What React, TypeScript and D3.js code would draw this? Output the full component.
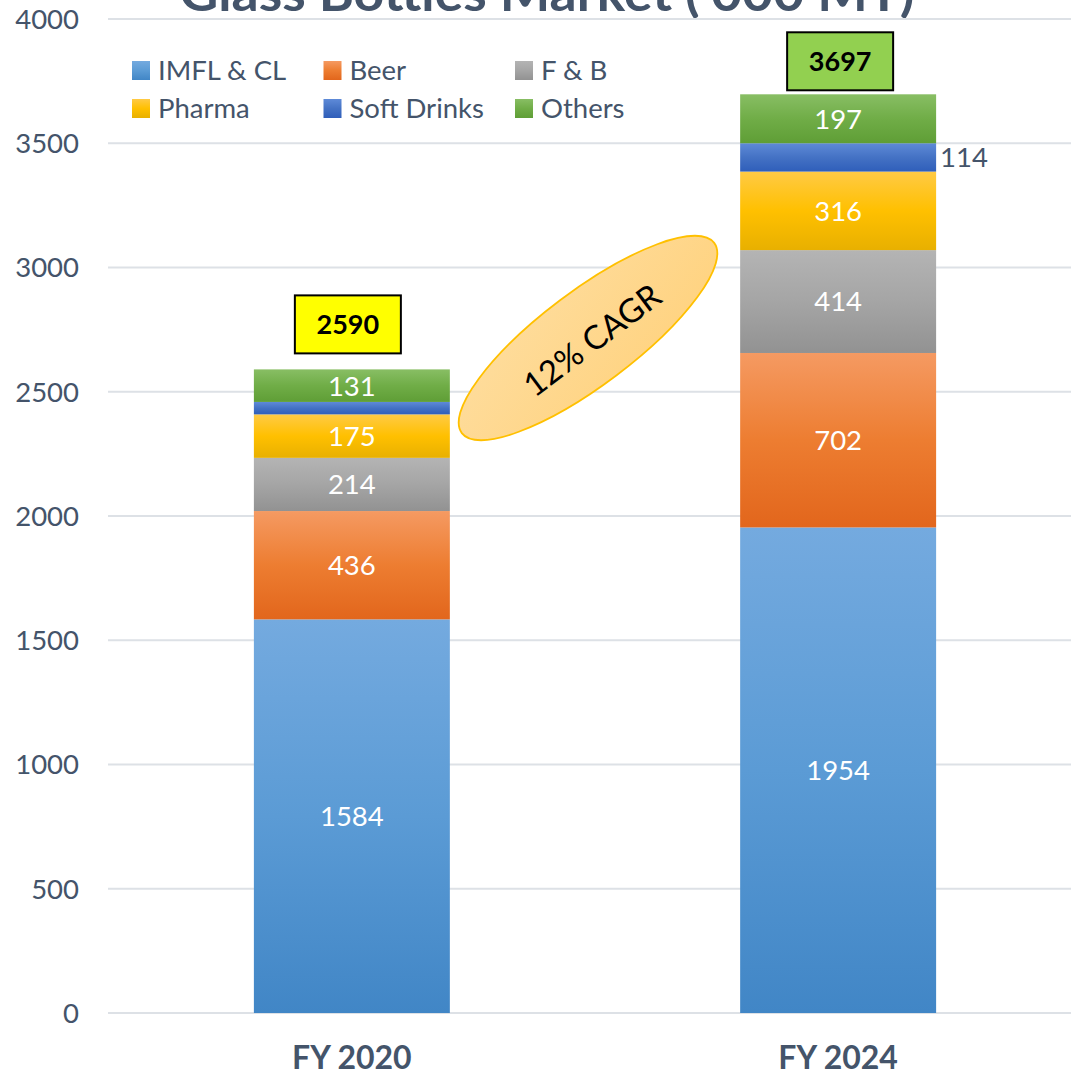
import React from "react";
import * as d3 from "d3";

const categories = ["FY 2020", "FY 2024"];
const seriesNames = ["IMFL & CL", "Beer", "F & B", "Pharma", "Soft Drinks", "Others"];
const imflValues = [1584, 1954];
const beerValues = [436, 702];
const fnbValues = [214, 414];
const pharmaValues = [175, 316];
const softDrinkValues = [50, 114];
const otherValues = [131, 197];
const totals = [2590, 3697];
const yTicks = [0, 500, 1000, 1500, 2000, 2500, 3000, 3500, 4000];
const titleText = "Glass Bottles Market ('000 MT)";
const cagrText = "12% CAGR";

const seriesValues = [imflValues, beerValues, fnbValues, pharmaValues, softDrinkValues, otherValues];
// gradient stops: top, middle, bottom
const seriesGradients = [
  ["#74AADF", "#5B9BD5", "#4186C6"],
  ["#F59A62", "#ED7D31", "#E2661C"],
  ["#B4B4B4", "#A5A5A5", "#929292"],
  ["#FFCA45", "#FFC000", "#E8B000"],
  ["#5E8AD8", "#4472C4", "#2F5EBA"],
  ["#88BE64", "#70AD47", "#5F9E36"],
];
const totalFills = ["#FFFF00", "#92D050"];

const W = 1071;
const H = 1075;
const FONT = "Lato, 'Open Sans', sans-serif";
const AXIS_COLOR = "#44546A";

export default function App() {
  const rows = categories.map((c, i) => {
    const r: any = { cat: c };
    seriesNames.forEach((s, k) => (r[s] = seriesValues[k][i]));
    return r;
  });
  const stacked = d3.stack<any>().keys(seriesNames)(rows);

  const x = d3
    .scaleBand<string>()
    .domain(categories)
    .range([108, 1082])
    .paddingInner(0.597)
    .paddingOuter(0.3);
  const y = d3.scaleLinear().domain([0, 4000]).range([1013, 19]);
  const bw = x.bandwidth();

  const boxDx = [-4, 2];
  const boxGap = [16, 4];
  const boxW = 106;
  const boxH = 58;
  const outsideDx = [14, 4];

  const ellCx = 588;
  const ellCy = 338;

  return (
    <svg
      width={W}
      height={H}
      style={{ position: "absolute", left: 0, top: 0, background: "#fff" }}
      fontFamily={FONT}
    >
      <defs>
        {seriesGradients.map((g, k) => (
          <linearGradient key={k} id={`grad${k}`} x1="0" y1="0" x2="0" y2="1">
            <stop offset="0" stopColor={g[0]} />
            <stop offset="0.5" stopColor={g[1]} />
            <stop offset="1" stopColor={g[2]} />
          </linearGradient>
        ))}
        <linearGradient id="ellGrad" x1="0" y1="0" x2="1" y2="1">
          <stop offset="0" stopColor="#FEDD9E" />
          <stop offset="1" stopColor="#FFD27E" />
        </linearGradient>
      </defs>
      <rect width={W} height={H} fill="#fff" />

      {/* title (mostly cut off at top) */}
      <text
        x={547}
        y={11}
        textAnchor="middle"
        fontSize={50}
        fontWeight={700}
        fill={AXIS_COLOR}
        textLength={735}
        lengthAdjust="spacingAndGlyphs"
      >
        {titleText}
      </text>

      {/* gridlines */}
      {yTicks.map((t) => (
        <line key={t} x1={108} x2={W} y1={y(t)} y2={y(t)} stroke="#DDE1E6" strokeWidth={2} />
      ))}
      {yTicks.map((t) => (
        <text
          key={"l" + t}
          x={79}
          y={y(t)}
          dy="0.36em"
          textAnchor="end"
          fontSize={27.5}
          fill={AXIS_COLOR}
        >
          {t}
        </text>
      ))}

      {/* bars */}
      {stacked.map((layer, k) =>
        layer.map((d, i) => {
          const x0 = x(categories[i])!;
          const yTop = y(d[1]);
          const yBot = y(d[0]);
          return (
            <rect
              key={`${k}-${i}`}
              x={x0}
              y={yTop}
              width={bw}
              height={yBot - yTop}
              fill={`url(#grad${k})`}
            />
          );
        })
      )}

      {/* segment labels */}
      {stacked.map((layer, k) =>
        layer.map((d, i) => {
          const x0 = x(categories[i])!;
          const cy = (y(d[0]) + y(d[1])) / 2;
          const v = d[1] - d[0];
          const outside = seriesNames[k] === "Soft Drinks";
          return (
            <text
              key={`t${k}-${i}`}
              x={outside ? x0 + bw + outsideDx[i] : x0 + bw / 2}
              y={cy}
              dy="0.36em"
              textAnchor={outside ? "start" : "middle"}
              fontSize={27.5}
              fill={outside ? AXIS_COLOR : "#FFFFFF"}
            >
              {v}
            </text>
          );
        })
      )}

      {/* total boxes */}
      {categories.map((c, i) => {
        const cx = x(c)! + bw / 2 + boxDx[i];
        const bottom = y(totals[i]) - boxGap[i];
        return (
          <g key={"tot" + c}>
            <rect
              x={cx - boxW / 2}
              y={bottom - boxH}
              width={boxW}
              height={boxH}
              fill={totalFills[i]}
              stroke="#000"
              strokeWidth={2}
            />
            <text
              x={cx}
              y={bottom - boxH / 2}
              dy="0.36em"
              textAnchor="middle"
              fontSize={27}
              fontWeight={700}
              fill="#000"
            >
              {totals[i]}
            </text>
          </g>
        );
      })}

      {/* CAGR ellipse */}
      <g transform={`translate(${ellCx},${ellCy}) rotate(-37)`}>
        <ellipse cx={0} cy={0} rx={158} ry={47} fill="url(#ellGrad)" stroke="#FFC000" strokeWidth={1.8} />
        <text x={2} y={4} dy="0.36em" textAnchor="middle" fontSize={33} fill="#000">
          {cagrText}
        </text>
      </g>

      {/* legend */}
      {seriesNames.map((s, k) => {
        const col = k % 3;
        const row = Math.floor(k / 3);
        const lx = 132 + col * 191.5;
        const ly = 70.5 + row * 38;
        return (
          <g key={"lg" + s}>
            <rect x={lx} y={ly - 9.5} width={18} height={19} fill={`url(#grad${k})`} />
            <text x={lx + 26} y={ly} dy="0.36em" fontSize={27.5} fill={AXIS_COLOR}>
              {s}
            </text>
          </g>
        );
      })}

      {/* x axis labels */}
      {categories.map((c) => (
        <text
          key={"x" + c}
          x={x(c)! + bw / 2}
          y={1069}
          textAnchor="middle"
          fontSize={32}
          fontWeight={700}
          fill={AXIS_COLOR}
        >
          {c}
        </text>
      ))}
    </svg>
  );
}
